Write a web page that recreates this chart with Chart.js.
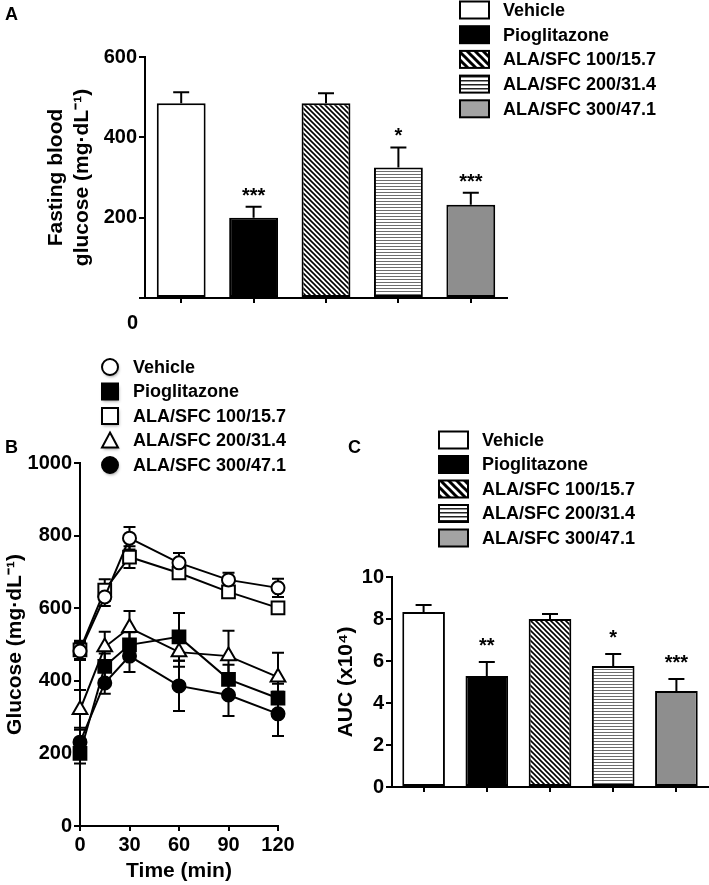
<!DOCTYPE html>
<html>
<head>
<meta charset="utf-8">
<script src="https://cdn.jsdelivr.net/npm/chart.js@4.4.0/dist/chart.umd.min.js"></script>
<style>
  body { margin: 0; background: #fff; }
  #wrap { position: relative; width: 709px; height: 885px; font-family: "Liberation Sans", Arial, sans-serif; font-weight: bold; }
  canvas { position: absolute; left: 0; top: 0; }
  .lbl { position: absolute; font-size: 18px; line-height: 18px; }
  .zero { position: absolute; font-size: 20px; line-height: 20px; }
</style>
</head>
<body>
<div id="wrap">
  <canvas id="chartA" width="709" height="885"></canvas>
  <canvas id="chartB" width="709" height="885"></canvas>
  <canvas id="chartC" width="709" height="885"></canvas>
  <div class="lbl" style="left:5px;top:5px">A</div>
  <div class="zero" style="left:127px;top:312px">0</div>
  <div class="lbl" style="left:5px;top:438px">B</div>
  <div class="lbl" style="left:348px;top:438px">C</div>
</div>
<script>
// groupes
const groups = ['Vehicle', 'Pioglitazone', 'ALA/SFC 100/15.7', 'ALA/SFC 200/31.4', 'ALA/SFC 300/47.1'];

// A : glycémie à jeun
const fastingMean = [485, 200, 485, 325, 232];
const fastingSem = [27, 27, 25, 50, 30];
const fastingSig = ['', '***', '', '*', '***'];

// B : test de tolérance
const timePoints = [0, 15, 30, 60, 90, 120];
const gluVehicle = [482, 631, 793, 725, 678, 656];
const semVehicle = [25, 25, 31, 27, 20, 25];
const gluPio = [200, 440, 499, 521, 404, 352];
const semPio = [28, 35, 35, 66, 40, 40];
const glu100 = [485, 650, 741, 697, 645, 601];
const sem100 = [25, 30, 30, 10, 12, 15];
const glu200 = [320, 493, 546, 479, 468, 410];
const sem200 = [55, 42, 46, 40, 70, 67];
const glu300 = [231, 394, 468, 386, 361, 309];
const sem300 = [40, 30, 44, 69, 58, 61];

// C : aire sous la courbe
const aucMean = [8.33, 5.29, 8.0, 5.76, 4.57];
const aucSem = [0.34, 0.66, 0.24, 0.57, 0.57];
const aucSig = ['', '**', '', '*', '***'];

const FONT = '"Liberation Sans", Arial, sans-serif';

// motifs de remplissage
function diagPattern(size, lw) {
    const c = document.createElement('canvas');
    c.width = c.height = size;
    const g = c.getContext('2d');
    g.fillStyle = '#fff';
    g.fillRect(0, 0, size, size);
    g.strokeStyle = '#000';
    g.lineWidth = lw;
    g.beginPath();
    g.moveTo(-1, -1); g.lineTo(size + 1, size + 1);
    g.moveTo(-2, size - 2); g.lineTo(2, size + 2);
    g.moveTo(size - 2, -2); g.lineTo(size + 2, 2);
    g.stroke();
    return g.createPattern(c, 'repeat');
}

function stripePattern(period, lw, color) {
    const c = document.createElement('canvas');
    c.width = 4; c.height = period;
    const g = c.getContext('2d');
    g.fillStyle = '#fff';
    g.fillRect(0, 0, 4, period);
    g.fillStyle = color;
    g.fillRect(0, 0, 4, lw);
    return g.createPattern(c, 'repeat');
}

const barFills = ['#ffffff', '#000000', diagPattern(5, 1.6), stripePattern(3, 1, '#6e6e6e'), '#8e8e8e'];
const swatchFills = ['#ffffff', '#000000', diagPattern(8, 3), stripePattern(4, 1.5, '#222'), '#a3a3a3'];

// barres d'erreur + étoiles
function barExtras(mean, sem, sig, gap) {
    return {
        id: 'barExtras',
        afterDatasetsDraw(chart) {
            const ctx = chart.ctx;
            const y = chart.scales.y;
            chart.getDatasetMeta(0).data.forEach((bar, i) => {
                const top = y.getPixelForValue(mean[i] + sem[i]);
                ctx.save();
                ctx.strokeStyle = '#000';
                ctx.lineWidth = 2;
                ctx.beginPath();
                ctx.moveTo(bar.x, bar.y);
                ctx.lineTo(bar.x, top);
                ctx.moveTo(bar.x - 8, top);
                ctx.lineTo(bar.x + 8, top);
                ctx.stroke();
                if (sig[i]) {
                    ctx.fillStyle = '#000';
                    ctx.font = 'bold 20px ' + FONT;
                    ctx.textAlign = 'center';
                    ctx.fillText(sig[i], bar.x, top - gap);
                }
                ctx.restore();
            });
        }
    };
}

// légende des barres
function boxLegend(x, y0, step) {
    return {
        id: 'boxLegend',
        afterDraw(chart) {
            const ctx = chart.ctx;
            ctx.save();
            groups.forEach((g, i) => {
                const cy = y0 + i * step;
                ctx.fillStyle = swatchFills[i];
                ctx.fillRect(x, cy - 8.5, 29, 17);
                ctx.strokeStyle = '#000';
                ctx.lineWidth = 2;
                ctx.strokeRect(x, cy - 8.5, 29, 17);
                ctx.fillStyle = '#000';
                ctx.font = 'bold 18px ' + FONT;
                ctx.textBaseline = 'middle';
                ctx.fillText(g, x + 43, cy + 1);
            });
            ctx.restore();
        }
    };
}

function axisFont(size) {
    return { family: FONT, size: size, weight: 'bold', lineHeight: 1.2 };
}

function barChart(id, mean, sem, sig, yMax, yStep, title, titlePad, padding, yWidth, gap, legend, hideZero) {
    return new Chart(document.getElementById(id), {
        type: 'bar',
        data: {
            labels: groups,
            datasets: [{
                data: mean,
                backgroundColor: barFills,
                borderColor: '#000',
                borderWidth: 2,
                borderSkipped: false,
                categoryPercentage: 1,
                barPercentage: 0.675
            }]
        },
        options: {
            responsive: false,
            animation: false,
            devicePixelRatio: 1,
            layout: { padding: padding },
            plugins: { legend: { display: false }, tooltip: { enabled: false } },
            scales: {
                x: {
                    grid: { display: true, drawOnChartArea: false, drawTicks: true, tickLength: 5, offset: false, color: '#000', lineWidth: 2 },
                    border: { display: true, color: '#000', width: 2 },
                    ticks: { callback: () => '' },
                    afterFit: (s) => { s.height = 20; }
                },
                y: {
                    min: 0,
                    max: yMax,
                    grid: { display: true, drawOnChartArea: false, drawTicks: true, tickLength: 6, color: '#000', lineWidth: 2 },
                    border: { display: true, color: '#000', width: 2 },
                    ticks: {
                        stepSize: yStep,
                        padding: 2,
                        color: '#000',
                        font: axisFont(20),
                        callback: (v) => (hideZero && v === 0) ? '' : String(v)
                    },
                    title: { display: true, text: title, color: '#000', font: axisFont(21), padding: { top: titlePad, bottom: 0 } },
                    afterFit: (s) => { s.width = yWidth; }
                }
            }
        },
        plugins: [barExtras(mean, sem, sig, gap), legend]
    });
}

// Panneau A
barChart('chartA', fastingMean, fastingSem, fastingSig, 600, 200,
    ['Fasting blood', 'glucose (mg\u00B7dL\u207B\u00B9)'], 44,
    { top: 57, left: 0, right: 202, bottom: 567 }, 145, 5,
    boxLegend(460, 10, 24.7), true);

// Panneau C
barChart('chartC', aucMean, aucSem, aucSig, 10, 2,
    'AUC (x10\u2074)', 334,
    { top: 577, left: 0, right: 1, bottom: 78 }, 392, 10,
    boxLegend(439, 440, 24.5), false);

// Panneau B
const lineSeries = [
    { label: groups[0], data: gluVehicle, sem: semVehicle, style: 'circle', fill: '#fff', r: 6.5 },
    { label: groups[1], data: gluPio, sem: semPio, style: 'rect', fill: '#000', r: 9 },
    { label: groups[2], data: glu100, sem: sem100, style: 'rect', fill: '#fff', r: 9 },
    { label: groups[3], data: glu200, sem: sem200, style: 'triangle', fill: '#fff', r: 8.5 },
    { label: groups[4], data: glu300, sem: sem300, style: 'circle', fill: '#000', r: 6.5 }
];

const lineErrors = {
    id: 'lineErrors',
    beforeDatasetsDraw(chart) {
        const ctx = chart.ctx;
        const xs = chart.scales.x, ys = chart.scales.y;
        ctx.save();
        ctx.strokeStyle = '#000';
        ctx.lineWidth = 2;
        lineSeries.forEach((s) => {
            s.data.forEach((v, i) => {
                const x = xs.getPixelForValue(timePoints[i]);
                const hi = ys.getPixelForValue(v + s.sem[i]);
                const lo = ys.getPixelForValue(v - s.sem[i]);
                ctx.beginPath();
                ctx.moveTo(x, hi); ctx.lineTo(x, lo);
                ctx.moveTo(x - 6, hi); ctx.lineTo(x + 6, hi);
                ctx.moveTo(x - 6, lo); ctx.lineTo(x + 6, lo);
                ctx.stroke();
            });
        });
        ctx.restore();
    }
};

function drawMarker(ctx, style, fill, x, y, size) {
    ctx.beginPath();
    if (style === 'circle') {
        ctx.arc(x, y, size / 2, 0, Math.PI * 2);
    } else if (style === 'rect') {
        ctx.rect(x - size / 2, y - size / 2, size, size);
    } else {
        const h = size * 0.87;
        ctx.moveTo(x, y - h / 2 - 1);
        ctx.lineTo(x + size / 2, y + h / 2);
        ctx.lineTo(x - size / 2, y + h / 2);
        ctx.closePath();
    }
    ctx.fillStyle = fill;
    ctx.fill();
    ctx.shadowColor = 'transparent';
    ctx.stroke();
}

const markerLegend = {
    id: 'markerLegend',
    afterDraw(chart) {
        const ctx = chart.ctx;
        ctx.save();
        lineSeries.forEach((s, i) => {
            const cy = 367 + i * 24.5;
            ctx.save();
            ctx.shadowColor = 'rgba(0,0,0,0.35)';
            ctx.shadowBlur = 3;
            ctx.shadowOffsetX = 1;
            ctx.shadowOffsetY = 2;
            ctx.strokeStyle = '#000';
            ctx.lineWidth = 2;
            drawMarker(ctx, s.style, s.fill, 110, cy, 16);
            ctx.restore();
            ctx.fillStyle = '#000';
            ctx.font = 'bold 18px ' + FONT;
            ctx.textBaseline = 'middle';
            ctx.fillText(s.label, 133, cy + 1);
        });
        ctx.restore();
    }
};

new Chart(document.getElementById('chartB'), {
    type: 'line',
    data: {
        labels: timePoints,
        datasets: lineSeries.map((s) => ({
            label: s.label,
            data: s.data.map((v, i) => ({ x: timePoints[i], y: v })),
            borderColor: '#000',
            borderWidth: 2,
            pointStyle: s.style,
            pointRadius: s.r,
            pointBackgroundColor: s.fill,
            pointBorderColor: '#000',
            pointBorderWidth: 2,
            tension: 0,
            fill: false,
            clip: false
        }))
    },
    options: {
        responsive: false,
        animation: false,
        devicePixelRatio: 1,
        layout: { padding: { top: 463, left: 0, right: 431, bottom: 0 } },
        plugins: { legend: { display: false }, tooltip: { enabled: false } },
        scales: {
            x: {
                type: 'linear',
                min: 0,
                max: 120,
                grid: { display: true, drawOnChartArea: false, drawTicks: true, tickLength: 5, color: '#000', lineWidth: 2 },
                border: { display: true, color: '#000', width: 2 },
                ticks: { stepSize: 30, padding: 2, color: '#000', font: axisFont(20), maxRotation: 0, callback: (v) => String(v) },
                title: { display: true, text: 'Time (min)', color: '#000', font: axisFont(21), padding: { top: 0, bottom: 1 } },
                afterFit: (s) => { s.height = 59; }
            },
            y: {
                min: 0,
                max: 1000,
                grid: { display: true, drawOnChartArea: false, drawTicks: true, tickLength: 6, color: '#000', lineWidth: 2 },
                border: { display: true, color: '#000', width: 2 },
                ticks: { stepSize: 200, padding: 2, color: '#000', font: axisFont(20), callback: (v) => String(v) },
                title: { display: true, text: 'Glucose (mg\u00B7dL\u207B\u00B9)', color: '#000', font: axisFont(21), padding: { top: 3, bottom: 0 } },
                afterFit: (s) => { s.width = 80; }
            }
        }
    },
    plugins: [lineErrors, markerLegend]
});
</script>
</body>
</html>
